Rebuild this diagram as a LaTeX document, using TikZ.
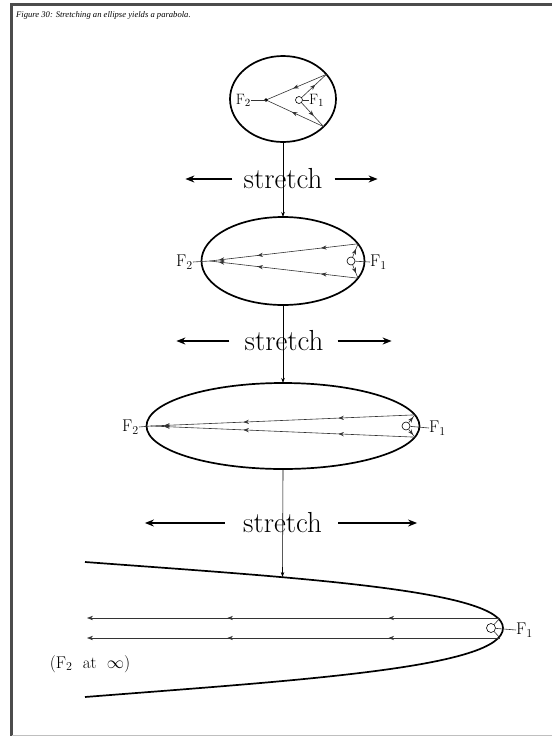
\documentclass[tikz,border=0pt]{standalone}
\usepackage{fontspec}
\newfontfamily\captionface{Liberation Serif}
\usetikzlibrary{shapes.geometric, calc, decorations.markings, arrows.meta}

\begin{document}
\begin{tikzpicture}[
    x=1pt, y=-1pt,
    >={Stealth[length=9pt,width=7pt]},
    ovalring/.style={draw, ellipse, line width=1.7pt, inner sep=0pt, outer sep=0pt},
    ray/.style={line width=0.6pt, black!80},
    midtip/.style={postaction={decorate, decoration={markings,
        mark=at position #1 with {\arrow{Stealth[length=5.5pt,width=4.2pt]}}}}},
    focus/.style={circle, draw, line width=0.6pt, minimum size=8pt, inner sep=0pt},
    flabel/.style={inner sep=0pt, font=\fontsize{17}{20}\selectfont},
    stretchword/.style={inner sep=0pt, font=\fontsize{29}{32}\selectfont},
    pull/.style={->, line width=1.4pt},
    feed/.style={-{Stealth[length=5pt,width=3.5pt]}, line width=0.6pt}
]
    \useasboundingbox (0,0) rectangle (552,736);

    % frame and caption
    \draw[line width=2.2pt, black!70] (11.5,736) -- (11.5,4.5) -- (552,4.5);
    \draw[line width=0.8pt, black!25] (12,735) -- (552,735);
    \node[anchor=west, inner sep=0pt, font=\captionface\itshape\fontsize{8.6}{10}\selectfont]
        (caption) at (16,15) {Figure 30: Stretching an ellipse yields a parabola.};

    % nearly round ellipse
    \node[ovalring, minimum width=106pt, minimum height=86pt] (oval1) at (283,99) {};
    \coordinate (f2a) at (266,100);
    \node[focus, minimum size=7pt] (f1a) at (299,100) {};
    \coordinate (r1a) at ($(oval1.center)+(-35:53 and 43)$);
    \coordinate (r1b) at ($(oval1.center)+(40:53 and 43)$);
    \draw[ray, midtip=0.55] (f1a) -- (r1a);
    \draw[ray, midtip=0.55] (f1a) -- (r1b);
    \draw[ray, midtip=0.55] (r1a) -- (f2a);
    \draw[ray, midtip=0.55] (r1b) -- (f2a);
    \fill (f2a) circle (1.8);
    \node[flabel, font=\fontsize{15}{18}\selectfont, anchor=east] (lf2a) at (251,100) {$\mathrm{F}_2$};
    \draw[ray] (lf2a.east) -- (f2a);
    \node[flabel, font=\fontsize{15}{18}\selectfont, anchor=west] (lf1a) at (309,100) {$\mathrm{F}_1$};
    \draw[ray] (f1a) -- (lf1a.west);

    \node[stretchword] (str1) at (283,179) {stretch};
    \draw[pull] ([xshift=-11pt]str1.west) -- ++(-47,0);
    \draw[pull] ([xshift=12pt]str1.east) -- ++(43,0);

    % second ellipse
    \node[ovalring, minimum width=163pt, minimum height=88pt] (oval2) at (283,261) {};
    \coordinate (f2b) at (210,261);
    \node[focus] (f1b) at (351,261) {};
    \coordinate (r2a) at ($(oval2.center)+(-23:81.5 and 44)$);
    \coordinate (r2b) at ($(oval2.center)+(23:81.5 and 44)$);
    \draw[ray, midtip=0.6] (f1b) -- (r2a);
    \draw[ray, midtip=0.6] (f1b) -- (r2b);
    \draw[ray, midtip=0.25, midtip=0.68, midtip=0.94] (r2a) -- (f2b);
    \draw[ray, midtip=0.25, midtip=0.68, midtip=0.94] (r2b) -- (f2b);
    \node[flabel, anchor=east] (lf2b) at (193,262) {$\mathrm{F}_2$};
    \draw[ray] (lf2b.east) -- (f2b);
    \node[flabel, anchor=west] (lf1b) at (370,262) {$\mathrm{F}_1$};
    \draw[ray] (f1b) -- (lf1b.west);

    \draw[feed] (oval1.south) -- (oval2.north);

    \node[stretchword] (str2) at (284,341) {stretch};
    \draw[pull] ([xshift=-15pt]str2.west) -- ++(-53,0);
    \draw[pull] ([xshift=14pt]str2.east) -- ++(54,0);

    % long ellipse
    \node[ovalring, minimum width=273pt, minimum height=86pt] (oval3) at (283,426) {};
    \coordinate (f2c) at (151,426);
    \node[focus] (f1c) at (406,426) {};
    \coordinate (r3a) at ($(oval3.center)+(-15:136.5 and 43)$);
    \coordinate (r3b) at ($(oval3.center)+(15:136.5 and 43)$);
    \draw[ray, midtip=0.7] (f1c) -- (r3a);
    \draw[ray, midtip=0.7] (f1c) -- (r3b);
    \draw[ray, midtip=0.29, midtip=0.65, midtip=0.95] (r3a) -- (f2c);
    \draw[ray, midtip=0.29, midtip=0.65, midtip=0.95] (r3b) -- (f2c);
    \node[flabel, anchor=east] (lf2c) at (139,427) {$\mathrm{F}_2$};
    \draw[ray] (lf2c.east) -- (f2c);
    \node[flabel, anchor=west] (lf1c) at (429,428) {$\mathrm{F}_1$};
    \draw[ray] (f1c) -- (lf1c.west);

    \draw[feed] (oval2.south) -- (oval3.north);

    \node[stretchword] (str3) at (282.5,523) {stretch};
    \draw[pull, line width=2.2pt] ([xshift=-18pt]str3.west) -- ++(-80,0);
    \draw[pull, line width=2.2pt] ([xshift=16pt]str3.east) -- ++(79,0);

    % parabola
    \draw[line width=1.7pt] (85,562) .. controls (300,578) and (503,590) .. (503,628)
        .. controls (503,668) and (300,680) .. (85,697);
    \coordinate (vtop) at (282.5,577);
    \draw[feed] (oval3.south) -- (vtop);
    \node[focus, minimum size=9pt] (f1d) at (491,628) {};
    \coordinate (r4a) at (500,618);
    \coordinate (r4b) at (500,638);
    \coordinate (far4a) at (87,618);
    \coordinate (far4b) at (87,638);
    \draw[ray] (f1d) -- (r4a);
    \draw[ray] (f1d) -- (r4b);
    \draw[ray, -{Stealth[length=6pt,width=4.4pt]}, midtip=0.27, midtip=0.66] (r4a) -- (far4a);
    \draw[ray, -{Stealth[length=6pt,width=4.4pt]}, midtip=0.27, midtip=0.66] (r4b) -- (far4b);
    \node[flabel, anchor=west] (lf1d) at (516,630) {$\mathrm{F}_1$};
    \draw[ray] (f1d) -- (lf1d.west);
    \node[flabel] (lf2d) at (90,664) {$\Bigl(\mathrm{F}_2\ \ \mathrm{at}\ \ \infty\Bigr)$};
\end{tikzpicture}
\end{document}
